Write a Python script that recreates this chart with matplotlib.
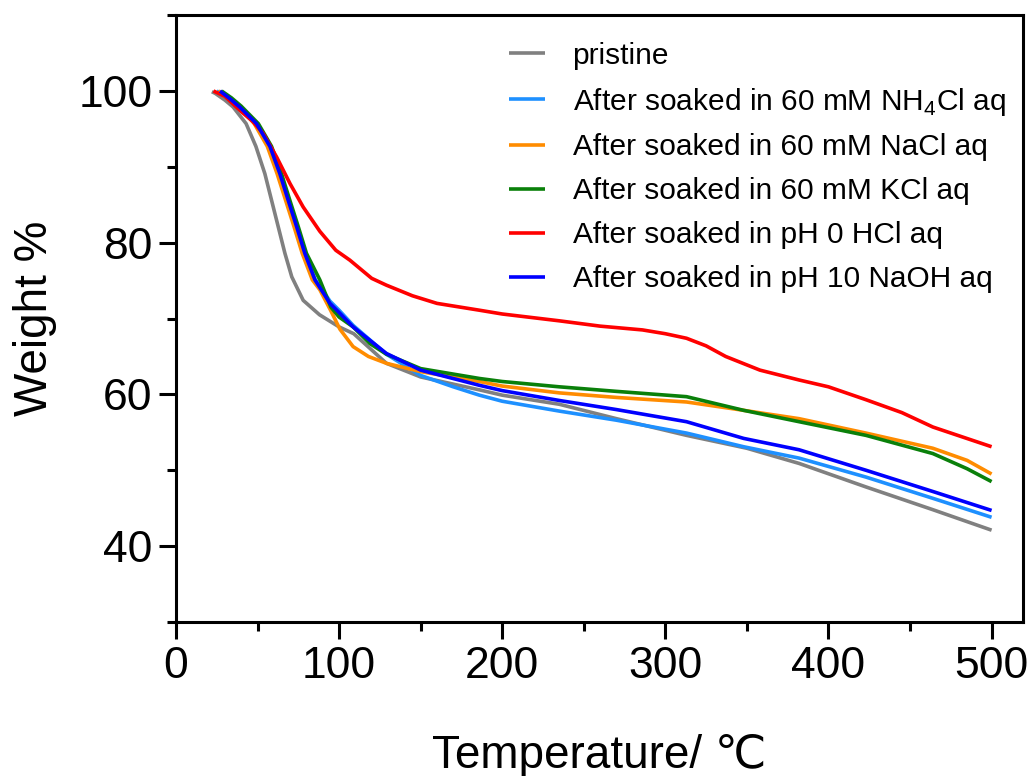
import matplotlib
matplotlib.use("Agg")
import matplotlib.pyplot as plt
from matplotlib.ticker import MultipleLocator

plt.rcParams["font.family"] = ["Liberation Sans", "DejaVu Sans"]
plt.rcParams["mathtext.fontset"] = "custom"
plt.rcParams["mathtext.rm"] = "Liberation Sans"

# TGA curves (temperature in degC, weight %)
pristine_t = [22, 24, 30, 35, 43, 49, 54.5, 58.6, 62.7, 66.8, 71, 78, 88, 100, 109, 129, 150, 186, 200, 235, 270, 313, 350, 382, 423, 464, 500]
pristine_w = [99.9, 99.7, 98.8, 97.9, 95.7, 92.7, 89.1, 85.6, 82.1, 78.6, 75.5, 72.4, 70.5, 68.9, 68.0, 64.1, 62.3, 60.6, 59.9, 58.7, 56.8, 54.6, 52.9, 50.9, 47.8, 44.8, 42.1]

nh4cl_t = [25, 33, 39, 49.4, 57.6, 63.7, 68.8, 74, 79, 85.2, 94.4, 100, 108.6, 129, 150, 170, 186, 200, 235, 270, 313, 348, 382, 423, 464, 500]
nh4cl_w = [100, 99.0, 97.9, 95.7, 92.7, 89.1, 85.6, 82.1, 78.6, 75.2, 72.3, 71.1, 69.1, 65.3, 62.5, 61.0, 59.9, 59.1, 57.8, 56.6, 54.9, 53.1, 51.6, 49.1, 46.3, 43.8]

nacl_t = [26, 33, 39, 48, 56, 62, 67.2, 72.4, 77.4, 83.6, 88.2, 95, 100.5, 108.6, 118, 129, 150, 186, 200, 235, 270, 313, 348, 382, 423, 464, 485, 500]
nacl_w = [100, 99.0, 97.9, 95.7, 92.7, 89.1, 85.6, 82.1, 78.6, 75.1, 73.8, 71.0, 68.6, 66.3, 65.0, 64.1, 63.0, 61.7, 61.1, 60.2, 59.6, 59.0, 57.9, 56.8, 54.9, 52.9, 51.3, 49.5]

kcl_t = [28, 34, 40, 50.5, 58.6, 64.7, 69.8, 75, 80, 88.2, 95, 100, 108.6, 118.9, 129, 150, 186, 200, 235, 270, 313, 348, 382, 423, 464, 485, 500]
kcl_w = [100, 99.1, 98.0, 95.7, 92.7, 89.1, 85.6, 82.1, 78.6, 75.1, 71.5, 70.2, 68.9, 66.7, 65.3, 63.4, 62.1, 61.7, 61.0, 60.4, 59.7, 57.9, 56.4, 54.6, 52.2, 50.2, 48.5]

hcl_t = [23, 30, 41, 47, 53.5, 61.7, 69.9, 78, 88.2, 98, 106.6, 120, 129, 145, 160, 186, 200, 235, 260, 286, 300, 313, 325, 337, 358, 382, 400, 423, 445, 464, 482, 500]
hcl_w = [100, 99.3, 97.1, 96.0, 94.4, 91.3, 87.8, 84.7, 81.5, 79.0, 77.7, 75.3, 74.4, 73.0, 72.0, 71.1, 70.6, 69.7, 69.0, 68.5, 68.0, 67.4, 66.4, 65.0, 63.2, 61.9, 61.0, 59.3, 57.6, 55.7, 54.4, 53.1]

naoh_t = [27, 33, 39, 49.4, 57.6, 63.7, 68.8, 74, 79, 85.2, 94.4, 100, 108.6, 129, 150, 186, 200, 235, 270, 313, 348, 382, 423, 464, 500]
naoh_w = [100, 99.0, 97.9, 95.7, 92.7, 89.1, 85.6, 82.1, 78.6, 75.1, 72.0, 70.8, 68.9, 65.4, 63.2, 61.2, 60.5, 59.2, 58.0, 56.4, 54.2, 52.7, 50.0, 47.2, 44.7]

labels = [
    "pristine",
    "After soaked in 60 mM NH$_4$Cl aq",
    "After soaked in 60 mM NaCl aq",
    "After soaked in 60 mM KCl aq",
    "After soaked in pH 0 HCl aq",
    "After soaked in pH 10 NaOH aq",
]
colors = ["#808080", "#1e90ff", "#ff8c00", "#0a800a", "#ff0000", "#0000ff"]

fig = plt.figure(figsize=(10.35, 7.76), dpi=100)
ax = fig.add_axes([0.170, 0.1985, 0.818, 0.782])

series = [
    (pristine_t, pristine_w),
    (nh4cl_t, nh4cl_w),
    (nacl_t, nacl_w),
    (kcl_t, kcl_w),
    (hcl_t, hcl_w),
    (naoh_t, naoh_w),
]
for (t, w), lab, c in zip(series, labels, colors):
    ax.plot(t, w, color=c, lw=2.6, label=lab, solid_capstyle="butt", solid_joinstyle="round")

ax.set_xlim(0, 519)
ax.set_ylim(30, 110)
ax.xaxis.set_major_locator(MultipleLocator(100))
ax.xaxis.set_minor_locator(MultipleLocator(50))
ax.yaxis.set_major_locator(MultipleLocator(20))
ax.yaxis.set_minor_locator(MultipleLocator(10))
ax.tick_params(which="major", direction="out", length=12, width=2.2, labelsize=32, pad=5)
ax.tick_params(which="minor", direction="out", length=6.5, width=2.2)
for s in ax.spines.values():
    s.set_linewidth(2.2)

ax.set_xlabel("Temperature/ \u2103", fontsize=33, labelpad=34)
ax.set_ylabel("Weight %", fontsize=33, labelpad=15)

ax.legend(loc="upper left", bbox_to_anchor=(0.393, 0.956), frameon=False,
          fontsize=21.5, handlelength=1.2, handletextpad=0.94, labelspacing=0.53,
          borderpad=0, borderaxespad=0)

fig.savefig("out.png", dpi=100)
